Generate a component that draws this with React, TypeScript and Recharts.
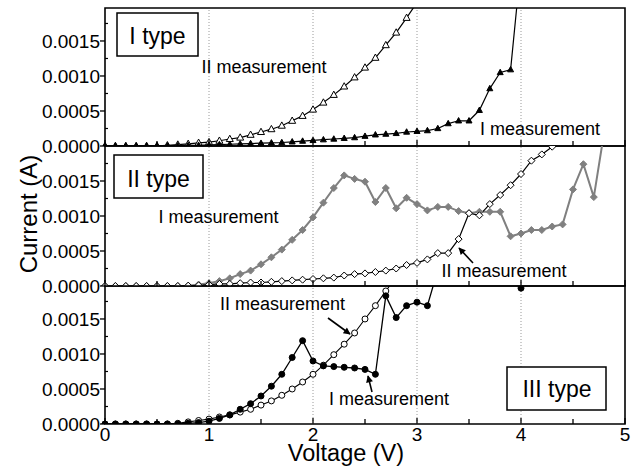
import React from 'react';
import { LineChart, Line, XAxis, YAxis, ReferenceLine, ReferenceArea } from 'recharts';

// ---------------- DATA ----------------
const voltage = [
  0.0, 0.1, 0.2, 0.3, 0.4, 0.5, 0.6, 0.7, 0.8, 0.9,
  1.0, 1.1, 1.2, 1.3, 1.4, 1.5, 1.6, 1.7, 1.8, 1.9,
  2.0, 2.1, 2.2, 2.3, 2.4, 2.5, 2.6, 2.7, 2.8, 2.9,
  3.0, 3.1, 3.2, 3.3, 3.4, 3.5, 3.6, 3.7, 3.8, 3.9,
  4.0, 4.1, 4.2, 4.3, 4.4, 4.5, 4.6, 4.7, 4.8, 4.9,
  5.0,
];

// I type – II measurement (open triangles)
const typeI_II = [
  0, 0, 0, 0, 0, 0.000002, 0.00001, 0.00002, 0.00003, 0.000045,
  0.000055, 0.000075, 0.0001, 0.00012, 0.00016, 0.0002, 0.00024, 0.00029, 0.00036, 0.00043,
  0.00052, 0.00062, 0.00073, 0.00085, 0.00098, 0.00112, 0.00126, 0.00144, 0.00162, 0.00183,
  0.00205, null, null, null, null, null, null, null, null, null,
  null, null, null, null, null, null, null, null, null, null,
  null,
];
// I type – I measurement (filled triangles)
const typeI_I = [
  0, 0, 0, 0, 0, 0, 0.000003, 0.000005, 0.000008, 0.00001,
  0.000015, 0.00002, 0.000025, 0.00003, 0.000035, 0.00004, 0.000045, 0.00005, 0.00006, 0.00007,
  0.00008, 0.00009, 0.0001, 0.00011, 0.00012, 0.00014, 0.00016, 0.00017, 0.00018, 0.0002,
  0.00021, 0.00022, 0.00025, 0.00032, 0.00036, 0.00036, 0.00051, 0.00082, 0.00105, 0.00109,
  0.0026, null, null, null, null, null, null, null, null, null,
  null,
];
// II type – I measurement (grey filled diamonds)
const typeII_I = [
  0, 0, 0, 0, 0, 0, 0, 0, 0.000005, 0.00002,
  0.00004, 0.00007, 0.00011, 0.00017, 0.00022, 0.00031, 0.00041, 0.00052, 0.00066, 0.0008,
  0.00098, 0.00119, 0.0014, 0.00158, 0.00153, 0.00149, 0.0012, 0.0014, 0.00111, 0.00126,
  0.00117, 0.00108, 0.00113, 0.00113, 0.00107, 0.00104, 0.00106, 0.00106, 0.00106, 0.00071,
  0.00075, 0.0008, 0.0008, 0.00085, 0.00088, 0.00138, 0.00174, 0.00127, 0.0022, null,
  null,
];
// II type – II measurement (open diamonds)
const typeII_II = [
  0, 0, 0, 0, 0, 0, 0, 0, 0.000005, 0.00001,
  0.00002, 0.00003, 0.00003, 0.00004, 0.00005, 0.00005, 0.00006, 0.00007, 0.00008, 0.00009,
  0.0001, 0.00011, 0.00012, 0.00015, 0.00017, 0.00018, 0.0002, 0.00022, 0.00025, 0.0003,
  0.00033, 0.00038, 0.00047, 0.00047, 0.00067, 0.00104, 0.00101, 0.00117, 0.0013, 0.00144,
  0.0016, 0.00179, 0.00188, 0.00199, null, null, null, null, null, null,
  null,
];
// III type – I measurement (filled circles)
const typeIII_I = [
  0, 0, 0, 0, 0, 0, 0, 0, 0.00001, 0.00002,
  0.00004, 0.00008, 0.00013, 0.00021, 0.00029, 0.0004, 0.00054, 0.00071, 0.00095, 0.00119,
  0.0009, 0.00083, 0.00082, 0.00081, 0.0008, 0.00078, 0.00071, 0.00183, 0.00152, 0.00169,
  0.00174, 0.00169, 0.0022, null, null, null, null, null, null, null,
  0.00194, null, null, null, null, null, null, null, null, null,
  null,
];
// III type – II measurement (open circles)
const typeIII_II = [
  0, 0, 0, 0, 0, 0, 0, 0.00001, 0.00003, 0.00005,
  0.00007, 0.0001, 0.00013, 0.00017, 0.00021, 0.00027, 0.00033, 0.00041, 0.0005, 0.0006,
  0.00071, 0.00084, 0.00099, 0.00114, 0.0013, 0.0015, 0.00169, 0.0019, 0.0021, null,
  null, null, null, null, null, null, null, null, null, null,
  null, null, null, null, null, null, null, null, null, null,
  null,
];

const xTicks = [0, 0.5, 1, 1.5, 2, 2.5, 3, 3.5, 4, 4.5, 5];
const xTickLabels = ['0', '1', '2', '3', '4', '5'];
const yTicks = [0, 0.00025, 0.0005, 0.00075, 0.001, 0.00125, 0.0015, 0.00175];
const yTickLabels = ['0.0000', '0.0005', '0.0010', '0.0015'];
const gridX = [1, 2, 3, 4];

const rows = voltage.map((v, i) => ({
  v,
  aII: typeI_II[i],
  aI: typeI_I[i],
  bI: typeII_I[i],
  bII: typeII_II[i],
  cI: typeIII_I[i],
  cII: typeIII_II[i],
}));

// ---------------- STYLE ----------------
const FONT = "Arial, 'Liberation Sans', Helvetica, sans-serif";
const W = 637;
const H = 466;
const MT = 8;
const MB = 14;

const XTick = (props: any) => {
  const { x, y, payload, showLabel } = props;
  const v = payload.value;
  const major = Math.abs(v - Math.round(v)) < 1e-6;
  return (
    <g>
      <line x1={x} x2={x} y1={y} y2={y - (major ? 6 : 5)} stroke="#000" strokeWidth={1.3} />
      {showLabel && major ? (
        <text x={x} y={y + 17} textAnchor="middle" fontSize={19} fontFamily={FONT} fill="#000">
          {xTickLabels[Math.round(v)]}
        </text>
      ) : null}
    </g>
  );
};

const YTick = (props: any) => {
  const { x, y, payload } = props;
  const v = payload.value;
  const k = v / 0.0005;
  const major = Math.abs(k - Math.round(k)) < 1e-6;
  return (
    <g>
      {major ? (
        <line x1={x - 5} x2={x} y1={y} y2={y} stroke="#000" strokeWidth={1.3} />
      ) : (
        <line x1={x} x2={x + 3} y1={y} y2={y} stroke="#000" strokeWidth={1.2} />
      )}
      {major ? (
        <text x={x - 5} y={y} dy="0.36em" textAnchor="end" fontSize={19} fontFamily={FONT} fill="#000">
          {yTickLabels[Math.round(k)]}
        </text>
      ) : null}
    </g>
  );
};

type Shape = 'tri' | 'diamond' | 'circle';
const makeDot = (shape: Shape, fill: string, stroke: string, size: number) => (p: any) => {
  const { cx, cy, index, value } = p;
  const key = `d-${index}`;
  if (cx == null || cy == null || value == null || Number.isNaN(cy)) return <g key={key} />;
  if (shape === 'tri') {
    const h = size * 0.9;
    const d = `M${cx},${cy - h * 0.6} L${cx + size / 2},${cy + h * 0.4} L${cx - size / 2},${cy + h * 0.4} Z`;
    return <path key={key} d={d} fill={fill} stroke={stroke} strokeWidth={1} />;
  }
  if (shape === 'diamond') {
    const s = size / 2;
    const d = `M${cx},${cy - s} L${cx + s},${cy} L${cx},${cy + s} L${cx - s},${cy} Z`;
    return <path key={key} d={d} fill={fill} stroke={stroke} strokeWidth={1} />;
  }
  return <circle key={key} cx={cx} cy={cy} r={size / 2} fill={fill} stroke={stroke} strokeWidth={1} />;
};

const panelCommon = (yMax: number, showLabels: boolean, xH: number) => [
  <XAxis
    key="x"
    dataKey="v"
    type="number"
    domain={[0, 5]}
    ticks={xTicks}
    interval={0}
    tickSize={0}
    tickMargin={0}
    tickLine={false}
    axisLine={false}
    height={xH}
    tick={(p: any) => <XTick {...p} showLabel={showLabels} />}
  />,
  <YAxis
    key="y"
    type="number"
    domain={[0, yMax]}
    ticks={yTicks}
    interval={0}
    allowDataOverflow
    tickSize={0}
    tickMargin={0}
    tickLine={false}
    axisLine={false}
    width={105}
    tick={(p: any) => <YTick {...p} />}
  />,
  ...gridX.map((g) => (
    <ReferenceLine key={`g${g}`} x={g} stroke="#9a9a9a" strokeDasharray="1 2" strokeWidth={1} />
  )),
  <ReferenceArea
    key="frame"
    x1={0}
    x2={5}
    y1={0}
    y2={yMax}
    fill="none"
    fillOpacity={0}
    stroke="#000"
    strokeWidth={1.6}
    ifOverflow="visible"
  />,
];

const lineProps = {
  type: 'linear' as const,
  isAnimationActive: false,
  activeDot: false,
  connectNulls: false,
};

export default function App() {
  return (
    <div
      style={{
        position: 'absolute',
        left: 0,
        top: 0,
        width: W,
        height: H,
        background: '#fff',
        overflow: 'hidden',
        fontFamily: FONT,
      }}
    >
      {/* Panel I */}
      <div style={{ position: 'absolute', left: 0, top: 8 - MT }}>
        <LineChart width={W} height={MT + 138 + 1 + MB} data={rows} margin={{ top: MT, right: 12, bottom: MB, left: 0 }}>
          {panelCommon(0.001971, false, 1)}
          <Line {...lineProps} dataKey="aII" stroke="#000" strokeWidth={1.2} dot={makeDot('tri', '#fff', '#000', 7)} />
          <Line {...lineProps} dataKey="aI" stroke="#000" strokeWidth={1.2} dot={makeDot('tri', '#000', '#000', 6)} />
        </LineChart>
      </div>
      {/* Panel II */}
      <div style={{ position: 'absolute', left: 0, top: 146 - MT }}>
        <LineChart width={W} height={MT + 140 + 1 + MB} data={rows} margin={{ top: MT, right: 12, bottom: MB, left: 0 }}>
          {panelCommon(0.002, false, 1)}
          <Line {...lineProps} dataKey="bI" stroke="#808080" strokeWidth={2} dot={makeDot('diamond', '#808080', '#808080', 7)} />
          <Line {...lineProps} dataKey="bII" stroke="#000" strokeWidth={1.2} dot={makeDot('diamond', '#fff', '#000', 7)} />
        </LineChart>
      </div>
      {/* Panel III */}
      <div style={{ position: 'absolute', left: 0, top: 286 - MT }}>
        <LineChart width={W} height={MT + 138 + 42} data={rows} margin={{ top: MT, right: 12, bottom: 0, left: 0 }}>
          {panelCommon(0.001971, true, 42)}
          <Line {...lineProps} dataKey="cII" stroke="#000" strokeWidth={1.1} dot={makeDot('circle', '#fff', '#000', 6)} />
          <Line {...lineProps} dataKey="cI" stroke="#000" strokeWidth={1.3} dot={makeDot('circle', '#000', '#000', 6)} />
        </LineChart>
      </div>

      {/* Annotations */}
      <svg
        width={W}
        height={H}
        style={{ position: 'absolute', left: 0, top: 0, pointerEvents: 'none' }}
        fontFamily={FONT}
      >
        <defs>
          <marker id="ah" viewBox="0 0 10 10" refX="9" refY="5" markerWidth="9" markerHeight="7" orient="auto" markerUnits="userSpaceOnUse">
            <path d="M0,0 L10,5 L0,10 Z" fill="#000" />
          </marker>
        </defs>

        {/* axis titles */}
        <text x={37} y={214} transform="rotate(-90 37 214)" textAnchor="middle" fontSize={24} fill="#000">
          Current (A)
        </text>
        <text x={346} y={461} textAnchor="middle" fontSize={23.5} fill="#000">
          Voltage (V)
        </text>

        {/* type boxes */}
        <rect x={117} y={13} width={81} height={43} fill="#fff" stroke="#000" strokeWidth={1.5} />
        <text x={157.5} y={43.5} textAnchor="middle" fontSize={23} fill="#000">I type</text>

        <rect x={114} y={155} width={89} height={43} fill="#fff" stroke="#000" strokeWidth={1.5} />
        <text x={158.5} y={186.5} textAnchor="middle" fontSize={23} fill="#000">II type</text>

        <rect x={507} y={367} width={99} height={43} fill="#fff" stroke="#000" strokeWidth={1.5} />
        <text x={557} y={397} textAnchor="middle" fontSize={23} fill="#000">III type</text>

        {/* measurement labels */}
        <text x={264} y={73} textAnchor="middle" fontSize={18} fill="#000">II measurement</text>
        <text x={540} y={135} textAnchor="middle" fontSize={18} fill="#000">I measurement</text>
        <text x={218.5} y={223} textAnchor="middle" fontSize={18} fill="#000">I measurement</text>
        <text x={504} y={277} textAnchor="middle" fontSize={18} fill="#000">II measurement</text>
        <text x={282.5} y={310} textAnchor="middle" fontSize={18} fill="#000">II measurement</text>
        <text x={389} y={405} textAnchor="middle" fontSize={18} fill="#000">I measurement</text>

        {/* arrows */}
        <line x1={473} y1={263} x2={459} y2={248} stroke="#000" strokeWidth={1.6} markerEnd="url(#ah)" />
        <line x1={328} y1={318} x2={350} y2={334} stroke="#000" strokeWidth={1.6} markerEnd="url(#ah)" />
        <line x1={372} y1={392} x2={368} y2={376} stroke="#000" strokeWidth={1.6} markerEnd="url(#ah)" />
      </svg>
    </div>
  );
}
